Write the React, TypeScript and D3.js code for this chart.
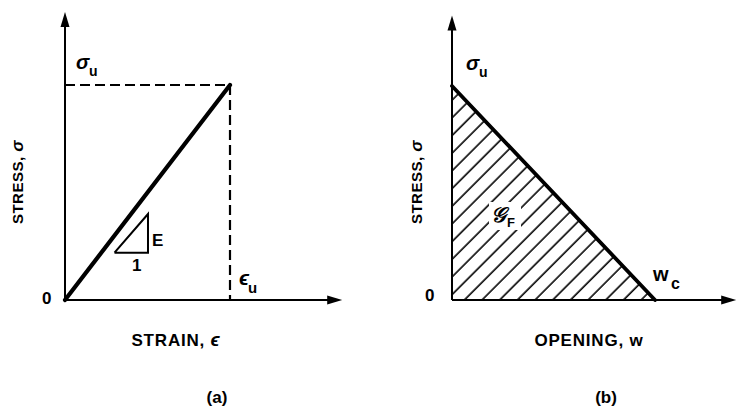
import React from "react";
import * as d3 from "d3";

// panel (a): linear elastic stress-strain, normalised to the ultimate point
const strainPts = [0, 1];
const stressPts = [0, 1];
// panel (b): linear softening, stress vs crack opening
const openingPts = [0, 1];
const softeningPts = [1, 0];

const axisMaxA = { x: 1.68, y: 1.34 };
const axisMaxB = { x: 1.4, y: 1.33 };

const FONT = "'Liberation Sans', Arial, Helvetica, sans-serif";
const W = 738;
const H = 408;

const Arrow = ({ x, y, dir }: { x: number; y: number; dir: "up" | "right" }) => {
  const len = 15;
  const half = 4.5;
  const pts =
    dir === "up"
      ? [[x, y], [x - half, y + len], [x + half, y + len]]
      : [[x, y], [x - len, y - half], [x - len, y + half]];
  return <polygon points={pts.map((p) => p.join(",")).join(" ")} fill="#000" />;
};

export default function App() {
  // ---- panel (a) scales
  const xA = d3.scaleLinear().domain([0, 1]).range([65, 230]);
  const yA = d3.scaleLinear().domain([0, 1]).range([300, 85]);
  // ---- panel (b) scales
  const xB = d3.scaleLinear().domain([0, 1]).range([452, 655]);
  const yB = d3.scaleLinear().domain([0, 1]).range([300, 86]);

  const lineA = d3
    .line<number>()
    .x((d) => xA(d))
    .y((_, i) => yA(stressPts[i]));

  const areaB = d3
    .area<number>()
    .x((d) => xB(d))
    .y0(yB(0))
    .y1((_, i) => yB(softeningPts[i]));

  const lineB = d3
    .line<number>()
    .x((d) => xB(d))
    .y((_, i) => yB(softeningPts[i]));

  const epsU = strainPts[1];
  const sigU = stressPts[1];
  const wc = openingPts[1];

  const label = { fontFamily: FONT, fontWeight: 700, fill: "#000" } as const;

  return (
    <div style={{ position: "absolute", left: 0, top: 0 }}>
      <svg width={W} height={H} viewBox={`0 0 ${W} ${H}`} style={{ display: "block", background: "#fff" }}>
        <defs>
          <pattern
            id="hatch"
            width={12.5}
            height={12.5}
            patternUnits="userSpaceOnUse"
            patternTransform="rotate(-45)"
          >
            <line x1={0} y1={3} x2={12.5} y2={3} stroke="#000" strokeWidth={1.6} />
          </pattern>
        </defs>

        {/* ================= panel (a) ================= */}
        <g>
          {/* axes */}
          <line x1={xA(0)} y1={yA(0)} x2={xA(0)} y2={yA(axisMaxA.y) + 10} stroke="#000" strokeWidth={2} />
          <Arrow x={xA(0)} y={yA(axisMaxA.y)} dir="up" />
          <line x1={xA(0)} y1={yA(0)} x2={xA(axisMaxA.x) - 10} y2={yA(0)} stroke="#000" strokeWidth={2} />
          <Arrow x={xA(axisMaxA.x)} y={yA(0)} dir="right" />

          {/* dashed guides to the ultimate point */}
          <line x1={xA(0)} y1={yA(sigU)} x2={xA(epsU)} y2={yA(sigU)} stroke="#000" strokeWidth={2.2} strokeDasharray="10 5" />
          <line x1={xA(epsU)} y1={yA(sigU)} x2={xA(epsU)} y2={yA(0)} stroke="#000" strokeWidth={2.2} strokeDasharray="10 5" />

          {/* stress-strain line */}
          <path d={lineA(strainPts) ?? ""} fill="none" stroke="#000" strokeWidth={4.2} strokeLinecap="round" />

          {/* slope triangle */}
          <polyline
            points={`${xA(0.3)},${yA(0.22)} ${xA(0.503)},${yA(0.22)} ${xA(0.503)},${yA(0.4)} ${xA(0.3)},${yA(0.22)}`}
            fill="none"
            stroke="#000"
            strokeWidth={2}
            strokeLinejoin="miter"
          />
          <text x={152} y={246} fontSize={17} {...label}>E</text>
          <text x={132} y={271} fontSize={17} {...label}>1</text>

          {/* labels */}
          <text x={42} y={304} fontSize={17} {...label}>0</text>
          <text x={76} y={69} fontSize={20} {...label} fontStyle="italic">σ</text>
          <text x={89} y={76} fontSize={14} {...label}>u</text>
          <text x={239} y={285} fontSize={21} {...label} fontStyle="italic">ϵ</text>
          <text x={248} y={293} fontSize={15} {...label}>u</text>

          <text x={176} y={346} fontSize={17} textAnchor="middle" letterSpacing={0.8} {...label}>
            STRAIN, <tspan fontStyle="italic" fontSize={19}>ϵ</tspan>
          </text>
          <text
            transform="translate(23,182) rotate(-90)"
            fontSize={15}
            textAnchor="middle"
            letterSpacing={0.5}
            {...label}
          >
            STRESS, <tspan fontStyle="italic" fontSize={17}>σ</tspan>
          </text>
          <text x={217} y={403} fontSize={17} textAnchor="middle" {...label}>(a)</text>
        </g>

        {/* ================= panel (b) ================= */}
        <g>
          {/* hatched fracture-energy area */}
          <path d={areaB(openingPts) ?? ""} fill="url(#hatch)" stroke="none" />

          {/* axes */}
          <line x1={xB(0)} y1={yB(0)} x2={xB(0)} y2={yB(axisMaxB.y) + 10} stroke="#000" strokeWidth={2} />
          <Arrow x={xB(0)} y={yB(axisMaxB.y)} dir="up" />
          <line x1={xB(0)} y1={yB(0)} x2={xB(axisMaxB.x) - 10} y2={yB(0)} stroke="#000" strokeWidth={2} />
          <Arrow x={xB(axisMaxB.x)} y={yB(0)} dir="right" />

          {/* softening line */}
          <path d={lineB(openingPts) ?? ""} fill="none" stroke="#000" strokeWidth={3.8} strokeLinecap="round" />

          {/* labels */}
          <text x={425} y={301} fontSize={17} {...label}>0</text>
          <text x={466} y={70} fontSize={20} {...label} fontStyle="italic">σ</text>
          <text x={479} y={77} fontSize={14} {...label}>u</text>
          <text x={xB(wc) - 2} y={281} fontSize={20} {...label}>w</text>
          <text x={xB(wc) + 16} y={289} fontSize={16} {...label}>c</text>
          <rect x={489} y={202} width={32} height={28} fill="#fff" />
          <text x={491} y={222} fontSize={21} {...label} fontStyle="italic" fontFamily="'DejaVu Serif', serif">𝒢</text>
          <text x={507} y={227} fontSize={13} {...label}>F</text>

          <text x={589} y={346} fontSize={17} textAnchor="middle" letterSpacing={0.8} {...label}>
            OPENING,  w
          </text>
          <text
            transform="translate(422,182) rotate(-90)"
            fontSize={15}
            textAnchor="middle"
            letterSpacing={0.5}
            {...label}
          >
            STRESS, <tspan fontStyle="italic" fontSize={17}>σ</tspan>
          </text>
          <text x={606} y={403} fontSize={17} textAnchor="middle" {...label}>(b)</text>
        </g>
      </svg>
    </div>
  );
}
